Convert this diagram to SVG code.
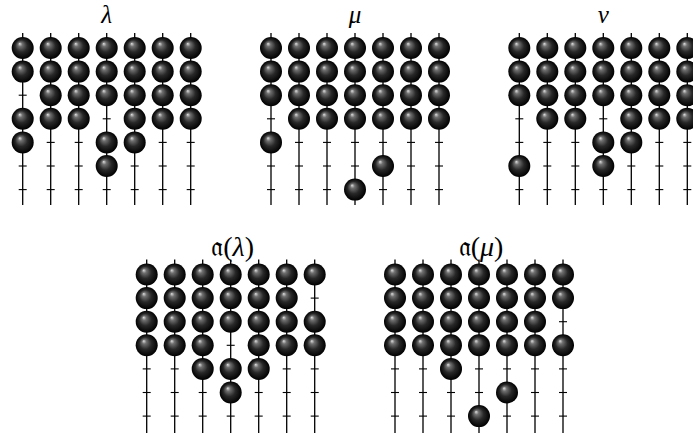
<svg xmlns="http://www.w3.org/2000/svg" width="693" height="433" viewBox="0 0 693 433">
<style>
.rod{stroke:#000;stroke-width:1.3;fill:none}
.tk{stroke:#000;stroke-width:1.1;fill:none}
.lbl{font-family:"Liberation Serif","DejaVu Serif",serif;font-style:italic;font-size:25px;text-anchor:middle;fill:#000}
.lbl2{font-family:"Liberation Serif","DejaVu Serif",serif;font-size:28px;text-anchor:middle;fill:#000}
.it{font-style:italic}
</style>
<defs>
<radialGradient id="g" cx="0.5" cy="0.5" r="0.5" fx="0.36" fy="0.3">
<stop offset="0" stop-color="#e0e0e0"/>
<stop offset="0.2" stop-color="#707070"/>
<stop offset="0.55" stop-color="#282828"/>
<stop offset="1" stop-color="#000"/>
</radialGradient>
<circle id="b" r="11" fill="url(#g)"/>
<path id="t" class="tk" d="M-4,0H4"/>
</defs>
<rect width="693" height="433" fill="#fff"/>

<g id="lambda" transform="translate(22.7,48)">
<text class="lbl" x="84" y="-25">λ</text>
<g class="rod"><path d="M0,-15V157M28,-15V157M56,-15V157M84,-15V157M112,-15V157M140,-15V157M168,-15V157"/></g>
<use href="#t" x="0" y="47.2"/><use href="#t" x="0" y="118"/><use href="#t" x="0" y="141.6"/>
<use href="#t" x="28" y="94.4"/><use href="#t" x="28" y="118"/><use href="#t" x="28" y="141.6"/>
<use href="#t" x="56" y="94.4"/><use href="#t" x="56" y="118"/><use href="#t" x="56" y="141.6"/>
<use href="#t" x="84" y="70.8"/><use href="#t" x="84" y="141.6"/>
<use href="#t" x="112" y="118"/><use href="#t" x="112" y="141.6"/>
<use href="#t" x="140" y="94.4"/><use href="#t" x="140" y="118"/><use href="#t" x="140" y="141.6"/>
<use href="#t" x="168" y="94.4"/><use href="#t" x="168" y="118"/><use href="#t" x="168" y="141.6"/>
<use href="#b" x="0" y="0"/><use href="#b" x="0" y="23.6"/><use href="#b" x="0" y="70.8"/><use href="#b" x="0" y="94.4"/>
<use href="#b" x="28" y="0"/><use href="#b" x="28" y="23.6"/><use href="#b" x="28" y="47.2"/><use href="#b" x="28" y="70.8"/>
<use href="#b" x="56" y="0"/><use href="#b" x="56" y="23.6"/><use href="#b" x="56" y="47.2"/><use href="#b" x="56" y="70.8"/>
<use href="#b" x="84" y="0"/><use href="#b" x="84" y="23.6"/><use href="#b" x="84" y="47.2"/><use href="#b" x="84" y="94.4"/><use href="#b" x="84" y="118"/>
<use href="#b" x="112" y="0"/><use href="#b" x="112" y="23.6"/><use href="#b" x="112" y="47.2"/><use href="#b" x="112" y="70.8"/><use href="#b" x="112" y="94.4"/>
<use href="#b" x="140" y="0"/><use href="#b" x="140" y="23.6"/><use href="#b" x="140" y="47.2"/><use href="#b" x="140" y="70.8"/>
<use href="#b" x="168" y="0"/><use href="#b" x="168" y="23.6"/><use href="#b" x="168" y="47.2"/><use href="#b" x="168" y="70.8"/>
</g>

<g id="mu" transform="translate(271,48)">
<text class="lbl" x="84" y="-25">μ</text>
<g class="rod"><path d="M0,-15V157M28,-15V157M56,-15V157M84,-15V157M112,-15V157M140,-15V157M168,-15V157"/></g>
<use href="#t" x="0" y="70.8"/><use href="#t" x="0" y="118"/><use href="#t" x="0" y="141.6"/>
<use href="#t" x="28" y="94.4"/><use href="#t" x="28" y="118"/><use href="#t" x="28" y="141.6"/>
<use href="#t" x="56" y="94.4"/><use href="#t" x="56" y="118"/><use href="#t" x="56" y="141.6"/>
<use href="#t" x="84" y="94.4"/><use href="#t" x="84" y="118"/>
<use href="#t" x="112" y="94.4"/><use href="#t" x="112" y="141.6"/>
<use href="#t" x="140" y="94.4"/><use href="#t" x="140" y="118"/><use href="#t" x="140" y="141.6"/>
<use href="#t" x="168" y="94.4"/><use href="#t" x="168" y="118"/><use href="#t" x="168" y="141.6"/>
<use href="#b" x="0" y="0"/><use href="#b" x="0" y="23.6"/><use href="#b" x="0" y="47.2"/><use href="#b" x="0" y="94.4"/>
<use href="#b" x="28" y="0"/><use href="#b" x="28" y="23.6"/><use href="#b" x="28" y="47.2"/><use href="#b" x="28" y="70.8"/>
<use href="#b" x="56" y="0"/><use href="#b" x="56" y="23.6"/><use href="#b" x="56" y="47.2"/><use href="#b" x="56" y="70.8"/>
<use href="#b" x="84" y="0"/><use href="#b" x="84" y="23.6"/><use href="#b" x="84" y="47.2"/><use href="#b" x="84" y="70.8"/><use href="#b" x="84" y="141.6"/>
<use href="#b" x="112" y="0"/><use href="#b" x="112" y="23.6"/><use href="#b" x="112" y="47.2"/><use href="#b" x="112" y="70.8"/><use href="#b" x="112" y="118"/>
<use href="#b" x="140" y="0"/><use href="#b" x="140" y="23.6"/><use href="#b" x="140" y="47.2"/><use href="#b" x="140" y="70.8"/>
<use href="#b" x="168" y="0"/><use href="#b" x="168" y="23.6"/><use href="#b" x="168" y="47.2"/><use href="#b" x="168" y="70.8"/>
</g>

<g id="nu" transform="translate(519.3,48)">
<text class="lbl" x="84" y="-25">ν</text>
<g class="rod"><path d="M0,-15V157M28,-15V157M56,-15V157M84,-15V157M112,-15V157M140,-15V157M168,-15V157"/></g>
<use href="#t" x="0" y="70.8"/><use href="#t" x="0" y="94.4"/><use href="#t" x="0" y="141.6"/>
<use href="#t" x="28" y="94.4"/><use href="#t" x="28" y="118"/><use href="#t" x="28" y="141.6"/>
<use href="#t" x="56" y="94.4"/><use href="#t" x="56" y="118"/><use href="#t" x="56" y="141.6"/>
<use href="#t" x="84" y="70.8"/><use href="#t" x="84" y="141.6"/>
<use href="#t" x="112" y="118"/><use href="#t" x="112" y="141.6"/>
<use href="#t" x="140" y="94.4"/><use href="#t" x="140" y="118"/><use href="#t" x="140" y="141.6"/>
<use href="#t" x="168" y="94.4"/><use href="#t" x="168" y="118"/><use href="#t" x="168" y="141.6"/>
<use href="#b" x="0" y="0"/><use href="#b" x="0" y="23.6"/><use href="#b" x="0" y="47.2"/><use href="#b" x="0" y="118"/>
<use href="#b" x="28" y="0"/><use href="#b" x="28" y="23.6"/><use href="#b" x="28" y="47.2"/><use href="#b" x="28" y="70.8"/>
<use href="#b" x="56" y="0"/><use href="#b" x="56" y="23.6"/><use href="#b" x="56" y="47.2"/><use href="#b" x="56" y="70.8"/>
<use href="#b" x="84" y="0"/><use href="#b" x="84" y="23.6"/><use href="#b" x="84" y="47.2"/><use href="#b" x="84" y="94.4"/><use href="#b" x="84" y="118"/>
<use href="#b" x="112" y="0"/><use href="#b" x="112" y="23.6"/><use href="#b" x="112" y="47.2"/><use href="#b" x="112" y="70.8"/><use href="#b" x="112" y="94.4"/>
<use href="#b" x="140" y="0"/><use href="#b" x="140" y="23.6"/><use href="#b" x="140" y="47.2"/><use href="#b" x="140" y="70.8"/>
<use href="#b" x="168" y="0"/><use href="#b" x="168" y="23.6"/><use href="#b" x="168" y="47.2"/><use href="#b" x="168" y="70.8"/>
</g>

<g id="a-lambda" transform="translate(146.7,274.5)">
<text class="lbl2" x="86" y="-18.5">𝔞(<tspan class="it">λ</tspan>)</text>
<g class="rod"><path d="M0,-15V159M28,-15V159M56,-15V159M84,-15V159M112,-15V159M140,-15V159M168,-15V159"/></g>
<use href="#t" x="0" y="94.4"/><use href="#t" x="0" y="118"/><use href="#t" x="0" y="141.6"/>
<use href="#t" x="28" y="94.4"/><use href="#t" x="28" y="118"/><use href="#t" x="28" y="141.6"/>
<use href="#t" x="56" y="118"/><use href="#t" x="56" y="141.6"/>
<use href="#t" x="84" y="70.8"/><use href="#t" x="84" y="141.6"/>
<use href="#t" x="112" y="118"/><use href="#t" x="112" y="141.6"/>
<use href="#t" x="140" y="94.4"/><use href="#t" x="140" y="118"/><use href="#t" x="140" y="141.6"/>
<use href="#t" x="168" y="23.6"/><use href="#t" x="168" y="94.4"/><use href="#t" x="168" y="118"/><use href="#t" x="168" y="141.6"/>
<use href="#b" x="0" y="0"/><use href="#b" x="0" y="23.6"/><use href="#b" x="0" y="47.2"/><use href="#b" x="0" y="70.8"/>
<use href="#b" x="28" y="0"/><use href="#b" x="28" y="23.6"/><use href="#b" x="28" y="47.2"/><use href="#b" x="28" y="70.8"/>
<use href="#b" x="56" y="0"/><use href="#b" x="56" y="23.6"/><use href="#b" x="56" y="47.2"/><use href="#b" x="56" y="70.8"/><use href="#b" x="56" y="94.4"/>
<use href="#b" x="84" y="0"/><use href="#b" x="84" y="23.6"/><use href="#b" x="84" y="47.2"/><use href="#b" x="84" y="94.4"/><use href="#b" x="84" y="118"/>
<use href="#b" x="112" y="0"/><use href="#b" x="112" y="23.6"/><use href="#b" x="112" y="47.2"/><use href="#b" x="112" y="70.8"/><use href="#b" x="112" y="94.4"/>
<use href="#b" x="140" y="0"/><use href="#b" x="140" y="23.6"/><use href="#b" x="140" y="47.2"/><use href="#b" x="140" y="70.8"/>
<use href="#b" x="168" y="0"/><use href="#b" x="168" y="47.2"/><use href="#b" x="168" y="70.8"/>
</g>

<g id="a-mu" transform="translate(395,274.5)">
<text class="lbl2" x="86" y="-18.5">𝔞(<tspan class="it">μ</tspan>)</text>
<g class="rod"><path d="M0,-15V159M28,-15V159M56,-15V159M84,-15V159M112,-15V159M140,-15V159M168,-15V159"/></g>
<use href="#t" x="0" y="94.4"/><use href="#t" x="0" y="118"/><use href="#t" x="0" y="141.6"/>
<use href="#t" x="28" y="94.4"/><use href="#t" x="28" y="118"/><use href="#t" x="28" y="141.6"/>
<use href="#t" x="56" y="118"/><use href="#t" x="56" y="141.6"/>
<use href="#t" x="84" y="94.4"/><use href="#t" x="84" y="118"/>
<use href="#t" x="112" y="94.4"/><use href="#t" x="112" y="141.6"/>
<use href="#t" x="140" y="94.4"/><use href="#t" x="140" y="118"/><use href="#t" x="140" y="141.6"/>
<use href="#t" x="168" y="47.2"/><use href="#t" x="168" y="94.4"/><use href="#t" x="168" y="118"/><use href="#t" x="168" y="141.6"/>
<use href="#b" x="0" y="0"/><use href="#b" x="0" y="23.6"/><use href="#b" x="0" y="47.2"/><use href="#b" x="0" y="70.8"/>
<use href="#b" x="28" y="0"/><use href="#b" x="28" y="23.6"/><use href="#b" x="28" y="47.2"/><use href="#b" x="28" y="70.8"/>
<use href="#b" x="56" y="0"/><use href="#b" x="56" y="23.6"/><use href="#b" x="56" y="47.2"/><use href="#b" x="56" y="70.8"/><use href="#b" x="56" y="94.4"/>
<use href="#b" x="84" y="0"/><use href="#b" x="84" y="23.6"/><use href="#b" x="84" y="47.2"/><use href="#b" x="84" y="70.8"/><use href="#b" x="84" y="141.6"/>
<use href="#b" x="112" y="0"/><use href="#b" x="112" y="23.6"/><use href="#b" x="112" y="47.2"/><use href="#b" x="112" y="70.8"/><use href="#b" x="112" y="118"/>
<use href="#b" x="140" y="0"/><use href="#b" x="140" y="23.6"/><use href="#b" x="140" y="47.2"/><use href="#b" x="140" y="70.8"/>
<use href="#b" x="168" y="0"/><use href="#b" x="168" y="23.6"/><use href="#b" x="168" y="70.8"/>
</g>
</svg>
